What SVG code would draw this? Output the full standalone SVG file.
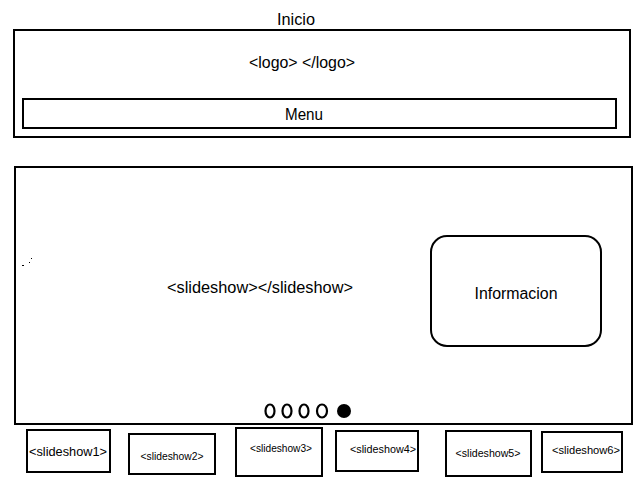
<svg xmlns="http://www.w3.org/2000/svg" width="640" height="480" viewBox="0 0 640 480">
<style>
.box{fill:#fff;stroke:#000;stroke-width:2}
.t{font-family:"Liberation Sans",Arial,sans-serif;fill:#000;text-anchor:middle}
.m{font-size:16px}
.s{font-size:11px}
.dot{fill:none;stroke:#000;stroke-width:2.2}
</style>
<rect width="640" height="480" fill="#fff"/>
<g id="inicio-label"><text class="t m" x="296" y="25" textLength="38" lengthAdjust="spacingAndGlyphs">Inicio</text></g>
<g id="header">
<rect class="box" x="14" y="30" width="616" height="107"/>
<text class="t m" x="302" y="68" textLength="106" lengthAdjust="spacingAndGlyphs">&lt;logo&gt; &lt;/logo&gt;</text>
</g>
<g id="menu">
<rect class="box" x="23" y="99" width="593" height="29"/>
<text class="t m" x="304" y="120" textLength="38" lengthAdjust="spacingAndGlyphs">Menu</text>
</g>
<g id="slideshow">
<rect class="box" x="15" y="167" width="617" height="257"/>
<text class="t m" x="260" y="293" textLength="186" lengthAdjust="spacingAndGlyphs">&lt;slideshow&gt;&lt;/slideshow&gt;</text>
<rect x="22" y="265" width="2" height="1" fill="#000"/>
<rect x="29" y="262" width="1" height="1" fill="#000"/>
<rect x="31" y="258" width="1" height="1" fill="#000"/>
</g>
<g id="informacion">
<rect class="box" x="431" y="236" width="170" height="110" rx="16" ry="16"/>
<text class="t m" x="516" y="299" textLength="83" lengthAdjust="spacingAndGlyphs">Informacion</text>
</g>
<g id="indicators">
<ellipse class="dot" cx="270" cy="411" rx="4.5" ry="6.5"/>
<ellipse class="dot" cx="287" cy="411" rx="4.5" ry="6.5"/>
<ellipse class="dot" cx="304" cy="411" rx="4.5" ry="6.5"/>
<ellipse class="dot" cx="322" cy="411" rx="5" ry="6.5"/>
<ellipse cx="344" cy="411" rx="7" ry="7" fill="#000"/>
</g>
<g id="thumb1">
<rect class="box" x="27" y="430" width="83" height="42"/>
<text class="t" style="font-size:12.5px" x="68" y="456" textLength="78" lengthAdjust="spacingAndGlyphs">&lt;slideshow1&gt;</text>
</g>
<g id="thumb2">
<rect class="box" x="129" y="434" width="86" height="40"/>
<text class="t s" x="172" y="460" textLength="63" lengthAdjust="spacingAndGlyphs">&lt;slideshow2&gt;</text>
</g>
<g id="thumb3">
<rect class="box" x="236" y="428" width="86" height="48"/>
<text class="t s" x="281" y="452" textLength="62" lengthAdjust="spacingAndGlyphs">&lt;slideshow3&gt;</text>
</g>
<g id="thumb4">
<rect class="box" x="336" y="431" width="82" height="40"/>
<text class="t s" x="383" y="453" textLength="66" lengthAdjust="spacingAndGlyphs">&lt;slideshow4&gt;</text>
</g>
<g id="thumb5">
<rect class="box" x="446" y="431" width="85" height="45"/>
<text class="t s" x="488" y="457" textLength="65" lengthAdjust="spacingAndGlyphs">&lt;slideshow5&gt;</text>
</g>
<g id="thumb6">
<rect class="box" x="542" y="432" width="80" height="40"/>
<text class="t s" x="586" y="454" textLength="68" lengthAdjust="spacingAndGlyphs">&lt;slideshow6&gt;</text>
</g>
<g id="connectors"></g>
</svg>
